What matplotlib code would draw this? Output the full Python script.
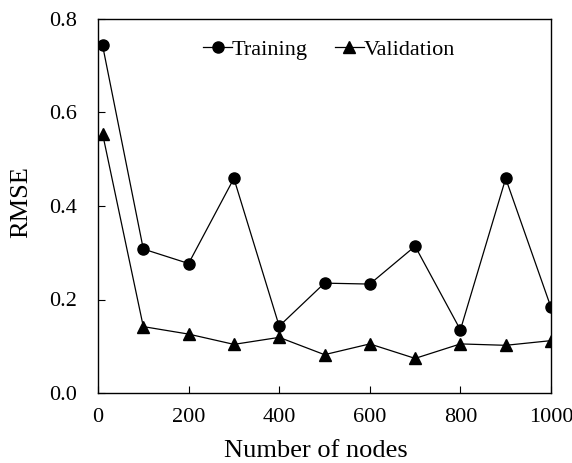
import numpy as np
import matplotlib
matplotlib.use("Agg")
import matplotlib.pyplot as plt

plt.rcParams['font.family'] = ['Liberation Serif', 'DejaVu Serif']

nodes = [10, 100, 200, 300, 400, 500, 600, 700, 800, 900, 1000]
training = [0.744, 0.308, 0.277, 0.459, 0.143, 0.235, 0.233, 0.314, 0.135, 0.459, 0.183]
validation = [0.555, 0.142, 0.126, 0.104, 0.119, 0.082, 0.105, 0.074, 0.105, 0.102, 0.112]

fig = plt.figure(figsize=(5.72, 4.63), dpi=100)
ax = fig.add_axes([98 / 572, 1 - 393 / 463, 453 / 572, 374 / 463])

ax.plot(nodes, training, color='black', lw=0.9, marker='o', ms=8, label='Training')
ax.plot(nodes, validation, color='black', lw=0.9, marker='^', ms=8, label='Validation')

ax.set_xlim(0, 1000)
ax.set_ylim(0, 0.8)
ax.set_xticks(np.arange(0, 1001, 200))
ax.set_yticks(np.arange(0, 0.81, 0.2))
ax.set_yticklabels(['0.0', '0.2', '0.4', '0.6', '0.8'])
ax.tick_params(direction='in', labelsize=16, length=5)
ax.tick_params(axis='x', pad=11)
ax.tick_params(axis='y', pad=15)
for s in ax.spines.values():
    s.set_linewidth(1.0)

ax.set_xlabel('Number of nodes', fontsize=19, labelpad=9, x=0.48)
ax.set_ylabel('RMSE', fontsize=19, labelpad=12, y=0.51)

ax.legend(loc='upper center', ncol=2, frameon=False, fontsize=16,
          handlelength=1.3, handletextpad=0.0, columnspacing=1.2,
          bbox_to_anchor=(0.51, 1.0))

fig.savefig('out.png', dpi=100)
